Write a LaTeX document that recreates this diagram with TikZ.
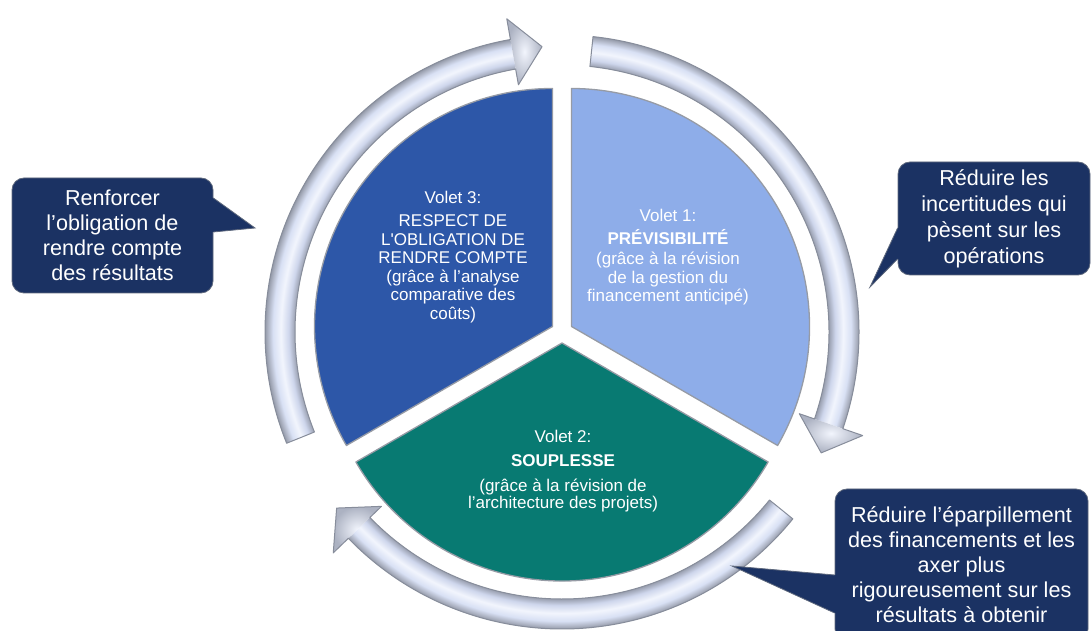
\documentclass[tikz,border=0pt]{standalone}
\usepackage{fontspec}
\setmainfont{Liberation Sans}[Ligatures=TeXOff]
\usetikzlibrary{calc}
\definecolor{navy}{RGB}{27,50,99}
\definecolor{calloutedge}{RGB}{95,105,125}
\definecolor{vthree}{RGB}{45,87,168}
\definecolor{vone}{RGB}{142,173,233}
\definecolor{vtwo}{RGB}{8,122,114}
\definecolor{ringfill}{RGB}{218,226,245}
\definecolor{ringedge}{RGB}{135,141,155}
\definecolor{secedge}{RGB}{150,155,165}
\definecolor{rsA}{RGB}{150,156,172}
\definecolor{rsB}{RGB}{206,214,236}
\definecolor{rsC}{RGB}{242,245,253}
\definecolor{rsD}{RGB}{216,224,244}
\definecolor{rsE}{RGB}{172,178,194}
\pgfdeclareradialshading{ringshade}{\pgfpoint{0bp}{0bp}}{%
  color(0bp)=(ringedge); color(20.2bp)=(rsA); color(20.7bp)=(rsB);
  color(21.3bp)=(rsC); color(21.9bp)=(rsD); color(22.3bp)=(rsE);
  color(22.6bp)=(ringedge); color(25bp)=(ringedge)}
\begin{document}
\begin{tikzpicture}[x=1pt,y=1pt,
  sector/.style={draw=secedge, line width=1.3pt, line join=round},
  shaft/.style={path picture={\shade[shading=ringshade] (C) circle (330);}},
  head/.style={shading=radial, inner color=rsC, outer color=rsE},
  ringline/.style={draw=ringedge, line width=1pt, line join=round},
  callout/.style={fill=navy, draw=calloutedge, line width=0.8pt, rounded corners=12pt, text=white, align=center, font=\fontsize{21.6}{25}\selectfont, inner sep=0pt},
  pointer/.style={fill=navy},
  pointeredge/.style={draw=calloutedge, line width=0.8pt},
  sectext/.style={text=white, align=center, font=\fontsize{17}{18.5}\selectfont, inner sep=0pt}]
\useasboundingbox (0,0) rectangle (1091,631);
\clip (0,0) rectangle (1091,631);
\coordinate (C) at (562,299);

% sectors
\path[sector, fill=vthree] (552.5,304.5) -- ++(90:238) arc[start angle=90, end angle=210, radius=238] -- cycle;
\path[sector, fill=vone] (571.5,304.5) -- ++(-30:238) arc[start angle=-30, end angle=90, radius=238] -- cycle;
\path[sector, fill=vtwo] (562,288) -- ++(210:238) arc[start angle=210, end angle=330, radius=238] -- cycle;

\node[sectext] (t3) at (453,374) {Volet 3:\\[4.5pt] RESPECT DE\\ L'OBLIGATION DE\\ RENDRE COMPTE\\ (grâce à l’analyse\\ comparative des\\ coûts)};
\node[sectext] (t1) at (668,374) {Volet 1:\\[5pt] \textbf{PRÉVISIBILITÉ}\\[1.5pt] (grâce à la révision\\ de la gestion du\\ financement anticipé)};
\node[sectext, font=\fontsize{17}{17.5}\selectfont] (t2) at (563,160) {Volet 2:\\[7pt] \textbf{SOUPLESSE}\\[7pt] (grâce à la révision de\\ l’architecture des projets)};

% ring arrows
\begin{scope}[shift={(C)}]
  % arrow A (left, ends at top)
  \path[shaft] (202:297) arc[start angle=202, end angle=100, radius=297] -- (100:267) arc[start angle=100, end angle=202, radius=267] -- cycle;
  \path[head] (100:318) -- (94:286) -- (100:251) -- cycle;
  \path[ringline] (202:297) arc[start angle=202, end angle=100, radius=297] -- (100:318) -- (94:286) -- (100:251) -- (100:267) arc[start angle=100, end angle=202, radius=267] -- cycle;
  % arrow B (right)
  \path[shaft] (84:297) arc[start angle=84, end angle=-19, radius=297] -- (-19:267) arc[start angle=-19, end angle=84, radius=267] -- cycle;
  \path[head] (-19:318) -- (-25:286) -- (-19:251) -- cycle;
  \path[ringline] (84:297) arc[start angle=84, end angle=-19, radius=297] -- (-19:318) -- (-25:286) -- (-19:251) -- (-19:267) arc[start angle=-19, end angle=84, radius=267] -- cycle;
  % arrow C (bottom)
  \path[shaft] (-39:297) arc[start angle=-39, end angle=-136, radius=297] -- (-136:267) arc[start angle=-136, end angle=-39, radius=267] -- cycle;
  \path[head] (-136:318) -- (-142:286) -- (-136:251) -- cycle;
  \path[ringline] (-39:297) arc[start angle=-39, end angle=-136, radius=297] -- (-136:318) -- (-142:286) -- (-136:251) -- (-136:267) arc[start angle=-136, end angle=-39, radius=267] -- cycle;
\end{scope}

% callouts
\node[callout, minimum width=201pt, minimum height=115pt] (cL) at (112.5,395.5) {Renforcer\\ l’obligation de\\ rendre compte\\ des résultats};
\coordinate (pL) at (255,403);
\path[pointer] (cL.east |- 0,433) ++(-5,0) -- (cL.east |- 0,433) -- (pL) -- (cL.east |- 0,399) -- ++(-5,0) -- cycle;
\draw[pointeredge] (cL.east |- 0,433) -- (pL) -- (cL.east |- 0,399);

\node[callout, minimum width=192pt, minimum height=113pt, font=\fontsize{21.6}{26}\selectfont] (cR) at (994,412.5) {Réduire les\\ incertitudes qui\\ pèsent sur les\\ opérations};
\coordinate (pR) at (870,344);
\path[pointer] (cR.west |- 0,403) ++(5,0) -- (cR.west |- 0,403) -- (pR) -- (cR.west |- 0,372) -- ++(5,0) -- cycle;
\draw[pointeredge] (cR.west |- 0,403) -- (pR) -- (cR.west |- 0,372);

\node[callout, minimum width=253pt, minimum height=152pt] (cB) at (961.5,66) {Réduire l’éparpillement\\ des financements et les\\ axer plus\\ rigoureusement sur les\\ résultats à obtenir};
\coordinate (pB) at (732,65);
\path[pointer] (cB.west |- 0,56) ++(5,0) -- (cB.west |- 0,56) -- (pB) -- (cB.west |- 0,18) -- ++(5,0) -- cycle;
\draw[pointeredge] (cB.west |- 0,56) -- (pB) -- (cB.west |- 0,18);
\end{tikzpicture}
\end{document}
